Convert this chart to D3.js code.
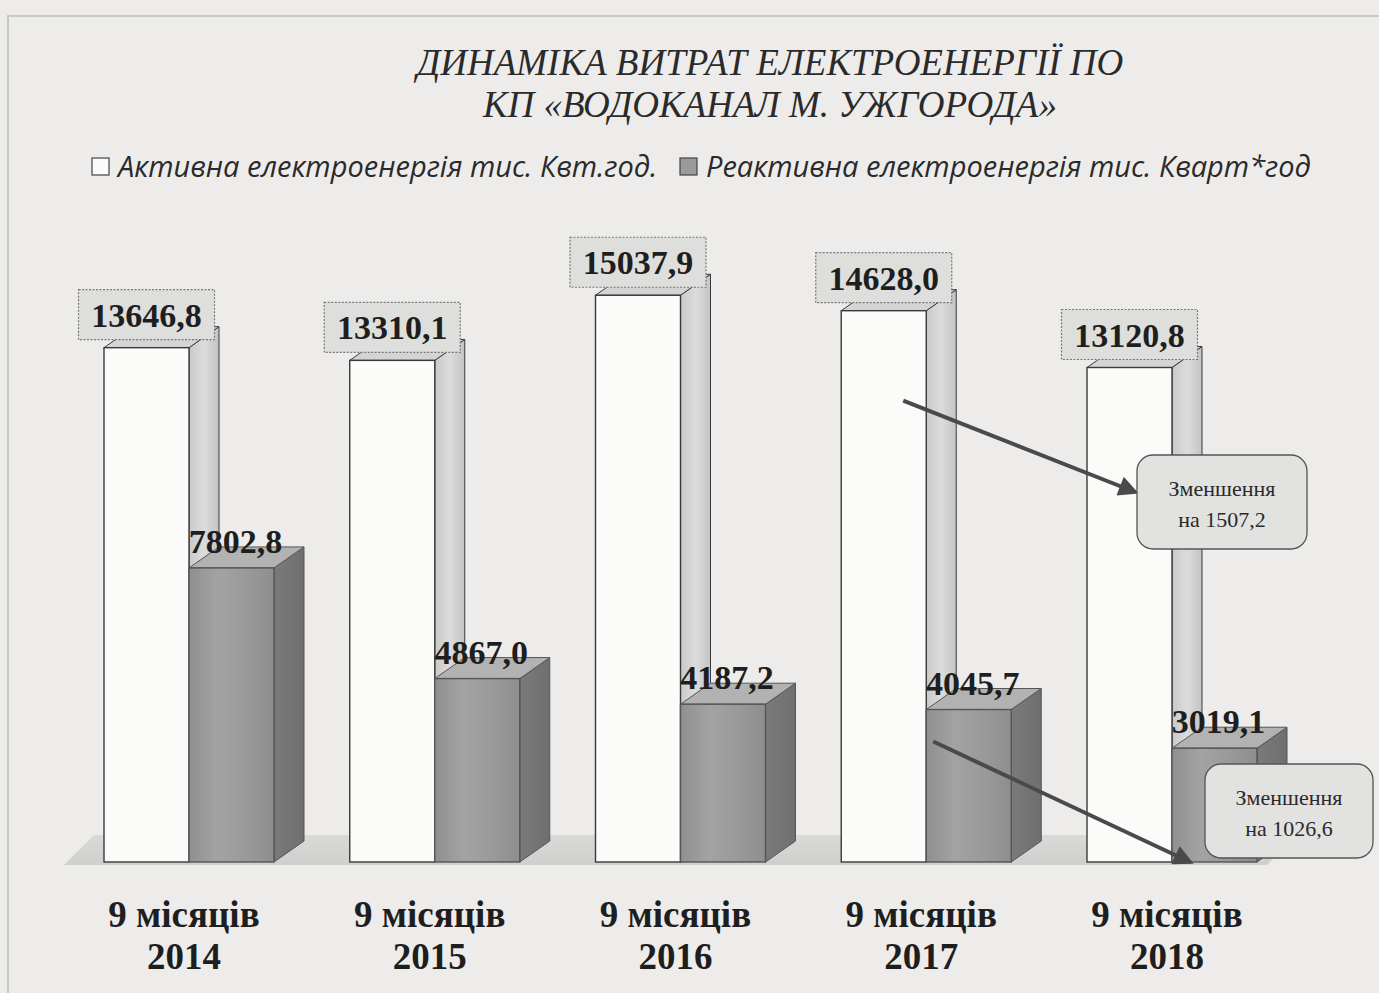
<!DOCTYPE html>
<html>
<head>
<meta charset="utf-8">
<script src="https://cdn.jsdelivr.net/npm/d3@7"></script>
<style>
  html, body { margin: 0; padding: 0; background: #edecea; }
  svg { display: block; }
</style>
</head>
<body>
<div id="chart"></div>
<script>
// --- data
const periods = ['9 місяців 2014', '9 місяців 2015', '9 місяців 2016', '9 місяців 2017', '9 місяців 2018'];
const activeValues = [13646.8, 13310.1, 15037.9, 14628.0, 13120.8];
const reactiveValues = [7802.8, 4867.0, 4187.2, 4045.7, 3019.1];
const seriesNames = ['Активна електроенергія тис. Квт.год.', 'Реактивна електроенергія тис. Кварт*год'];
const titleLines = ['ДИНАМІКА ВИТРАТ ЕЛЕКТРОЕНЕРГІЇ ПО', 'КП «ВОДОКАНАЛ М. УЖГОРОДА»'];
const notes = [
  { from: [3, 'active'], to: [4, 'active'], lines: ['Зменшення', 'на 1507,2'] },
  { from: [3, 'reactive'], to: [4, 'reactive'], lines: ['Зменшення', 'на 1026,6'] }
];

const width = 1379, height = 993;
const depthX = 30, depthY = -21;
const fmt = v => v.toFixed(1).replace('.', ',');

const svg = d3.select('#chart').append('svg')
  .attr('width', width).attr('height', height)
  .attr('viewBox', `0 0 ${width} ${height}`);

const defs = svg.append('defs');

function grad(id, stops, vertical) {
  const gr = defs.append('linearGradient').attr('id', id)
    .attr('x1', 0).attr('y1', 0).attr('x2', vertical ? 0 : 1).attr('y2', vertical ? 1 : 0);
  gr.selectAll('stop').data(stops).join('stop')
    .attr('offset', (d, i) => `${i / (stops.length - 1) * 100}%`)
    .attr('stop-color', d => d);
}
grad('redFront', ['#8f8f8f', '#a3a3a3', '#9a9a9a', '#8e8e8e']);
grad('redSide', ['#7a7a7a', '#6f6f6f']);
grad('actSide', ['#c9c9c9', '#dcdcdc', '#c4c4c4']);
grad('floorG', ['#d9d9d7', '#cfcfcd'], true);

defs.append('marker').attr('id', 'arrow')
  .attr('viewBox', '0 0 10 10').attr('refX', 8).attr('refY', 5)
  .attr('markerWidth', 6).attr('markerHeight', 5).attr('orient', 'auto')
  .append('path').attr('d', 'M0,0 L10,5 L0,10 Z').attr('fill', '#4a4a4a');

// faint frame of the scanned page
svg.append('path')
  .attr('d', 'M8,993 L8,16 L1379,16')
  .attr('fill', 'none').attr('stroke', '#c8c8c6').attr('stroke-width', 2);

// --- scales
const x = d3.scaleBand()
  .domain(periods)
  .range([104, 1257])
  .paddingInner(0.3082)
  .paddingOuter(0);

const sub = d3.scaleBand()
  .domain(['active', 'reactive'])
  .range([0, x.bandwidth()]);

const y = d3.scaleLinear().domain([0, 16000]).range([862, 259]);

// --- floor
const fx0 = x.range()[0] - 40, fx1 = x.range()[1] + 10;
svg.append('path')
  .attr('d', `M${fx0},${y(0) + 3} L${fx1},${y(0) + 3} L${fx1 + depthX},${y(0) - 27} L${fx0 + depthX},${y(0) - 27} Z`)
  .attr('fill', 'url(#floorG)');

// --- title
svg.append('g').selectAll('text').data(titleLines).join('text')
  .attr('x', 770).attr('y', (d, i) => 75 + i * 42)
  .attr('text-anchor', 'middle')
  .attr('font-family', 'Liberation Serif, Times New Roman, serif')
  .attr('font-style', 'italic')
  .attr('font-size', 37)
  .attr('fill', '#2a2a2a')
  .text(d => d);

// --- legend
const legend = svg.append('g').attr('font-family', 'Open Sans, sans-serif')
  .attr('font-style', 'italic').attr('font-size', 29).attr('fill', '#2a2a2a');
const legendX = [92, 680];
legend.selectAll('rect').data(seriesNames).join('rect')
  .attr('x', (d, i) => legendX[i]).attr('y', 158)
  .attr('width', 17).attr('height', 17)
  .attr('fill', (d, i) => i === 0 ? '#fafafa' : '#9a9a9a')
  .attr('stroke', '#444').attr('stroke-width', 1.2);
legend.selectAll('text').data(seriesNames).join('text')
  .attr('x', (d, i) => legendX[i] + 26).attr('y', 177)
  .text(d => d);

// --- bars
const rows = periods.map((p, i) => ({ p, i, active: activeValues[i], reactive: reactiveValues[i] }));

function drawBox(g, x0, w, v, style) {
  const yt = y(v), yb = y(0);
  // side
  g.append('path')
    .attr('d', `M${x0 + w},${yb} L${x0 + w + depthX},${yb + depthY} L${x0 + w + depthX},${yt + depthY} L${x0 + w},${yt} Z`)
    .attr('fill', style.side).attr('stroke', style.stroke).attr('stroke-width', 1);
  // top
  g.append('path')
    .attr('d', `M${x0},${yt} L${x0 + depthX},${yt + depthY} L${x0 + w + depthX},${yt + depthY} L${x0 + w},${yt} Z`)
    .attr('fill', style.top).attr('stroke', style.stroke).attr('stroke-width', 1);
  // front
  g.append('rect')
    .attr('x', x0).attr('y', yt).attr('width', w).attr('height', yb - yt)
    .attr('fill', style.front).attr('stroke', style.stroke).attr('stroke-width', 1.4);
}

const bars = svg.append('g');
rows.forEach(d => {
  const g = bars.append('g');
  const xa = x(d.p) + sub('active');
  const xr = x(d.p) + sub('reactive');
  drawBox(g, xa, sub.bandwidth(), d.active,
    { front: '#fbfbfa', side: 'url(#actSide)', top: '#d4d4d4', stroke: '#3a3a3a' });
  drawBox(g, xr, sub.bandwidth(), d.reactive,
    { front: 'url(#redFront)', side: 'url(#redSide)', top: '#b2b2b2', stroke: '#555' });
});

// --- value labels
const labels = svg.append('g')
  .attr('font-family', 'Liberation Serif, Times New Roman, serif')
  .attr('font-weight', 'bold').attr('font-size', 34).attr('fill', '#1e1e1e');

rows.forEach(d => {
  const cx = x(d.p) + sub('active') + sub.bandwidth() / 2;
  const yt = y(d.active);
  labels.append('rect')
    .attr('x', cx - 68).attr('y', yt - 58).attr('width', 136).attr('height', 50)
    .attr('fill', '#dededc').attr('stroke', '#777').attr('stroke-width', 1.2)
    .attr('stroke-dasharray', '2,1.5');
  labels.append('text')
    .attr('x', cx).attr('y', yt - 21).attr('text-anchor', 'middle')
    .text(fmt(d.active));

  const rx = x(d.p) + sub('reactive') + sub.bandwidth() / 2 + 4;
  labels.append('text')
    .attr('x', rx).attr('y', y(d.reactive) - 15).attr('text-anchor', 'middle')
    .text(fmt(d.reactive));
});

// --- category labels
const cats = svg.append('g')
  .attr('font-family', 'Liberation Serif, Times New Roman, serif')
  .attr('font-weight', 'bold').attr('font-size', 37).attr('fill', '#1e1e1e')
  .attr('text-anchor', 'middle');
rows.forEach(d => {
  const parts = d.p.split(' ');
  const cx = x(d.p) + x.bandwidth() / 2 - 5;
  cats.append('text').attr('x', cx).attr('y', 927).text(parts[0] + ' ' + parts[1]);
  cats.append('text').attr('x', cx).attr('y', 969).text(parts[2]);
});

// --- arrows and callouts
const calloutBoxes = [
  { x: 1137, y: 455, w: 170, h: 94 },
  { x: 1205, y: 764, w: 168, h: 94 }
];
const arrowStart = [
  [x(periods[3]) + sub('active') + 62, y(activeValues[3]) + 90],
  [x(periods[3]) + sub('active') + 92, y(reactiveValues[3]) + 32]
];
const arrowEnd = [
  [calloutBoxes[0].x - 2, calloutBoxes[0].y + 37],
  [x(periods[4]) + sub('reactive') + 18, y(0)]
];

const notesG = svg.append('g');
notes.forEach((n, i) => {
  notesG.append('line')
    .attr('x1', arrowStart[i][0]).attr('y1', arrowStart[i][1])
    .attr('x2', arrowEnd[i][0]).attr('y2', arrowEnd[i][1])
    .attr('stroke', '#4a4a4a').attr('stroke-width', 4)
    .attr('marker-end', 'url(#arrow)');
});
notes.forEach((n, i) => {
  const b = calloutBoxes[i];
  notesG.append('rect')
    .attr('x', b.x).attr('y', b.y).attr('width', b.w).attr('height', b.h)
    .attr('rx', 16).attr('ry', 16)
    .attr('fill', '#e2e2e0').attr('stroke', '#555').attr('stroke-width', 1.3);
  notesG.selectAll(null).data(n.lines).join('text')
    .attr('x', b.x + b.w / 2).attr('y', (d, j) => b.y + 41 + j * 31)
    .attr('text-anchor', 'middle')
    .attr('font-family', 'Liberation Serif, Times New Roman, serif')
    .attr('font-size', 22).attr('fill', '#2a2a2a')
    .text(d => d);
});
</script>
</body>
</html>
